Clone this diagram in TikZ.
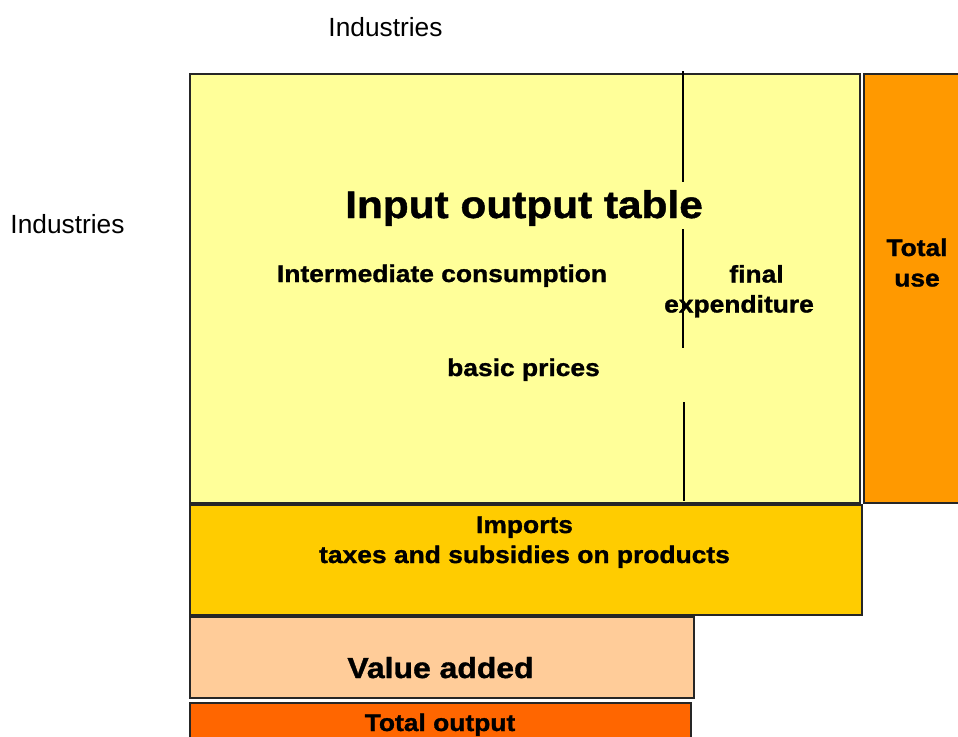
\documentclass[tikz,border=0pt]{standalone}
\usepackage{fontspec}
\setmainfont{Liberation Sans}[BoldFeatures={FakeStretch=1.1,FakeBold=1.2}]
\definecolor{ioyellow}{HTML}{FFFF99}
\definecolor{useorange}{HTML}{FF9900}
\definecolor{impgold}{HTML}{FFCC00}
\definecolor{vapeach}{HTML}{FFCC99}
\definecolor{outorange}{HTML}{FF6600}
\begin{document}
\begin{tikzpicture}[x=1pt,y=-1pt,
  blk/.style={draw=black!85,line width=1.6pt,rectangle,inner sep=0pt,anchor=north west},
  lbl/.style={anchor=base,inner sep=0pt,font=\fontsize{24}{28}\selectfont\bfseries},
  plain/.style={anchor=base,inner sep=0pt,font=\fontsize{26.3}{30}\selectfont},
  divider/.style={line width=1.5pt,black}]
\useasboundingbox (0,0) rectangle (958,736);
\clip (0,0) rectangle (958,736);
% boxes
\node[blk,fill=ioyellow,minimum width=670pt,minimum height=429pt] (io) at (189,73) {};
\node[blk,fill=useorange,minimum width=100pt,minimum height=429pt] (use) at (863,73) {};
\node[blk,fill=impgold,minimum width=672pt,minimum height=110pt] (imp) at (189,504) {};
\node[blk,fill=vapeach,minimum width=504pt,minimum height=81pt] (va) at (189,616) {};
\node[blk,fill=outorange,minimum width=501pt,minimum height=50pt] (out) at (189,702) {};
% divider line segments
\coordinate (d1) at (683,71);
\coordinate (d2) at (683,182);
\coordinate (d3) at (683,229);
\coordinate (d4) at (683,348);
\coordinate (d5) at (684,402);
\coordinate (d6) at (684,501);
\draw[divider] (d1) -- (d2);
\draw[divider] (d3) -- (d4);
\draw[divider] (d5) -- (d6);
% texts
\node[plain] (ind1) at (385.5,36) {Industries};
\node[plain] (ind2) at (67.5,233) {Industries};
\node[lbl,font=\fontsize{38.5}{44}\selectfont\bfseries] (title) at (524,218) {Input output table};
\node[lbl] (ic) at (442,282) {Intermediate consumption};
\node[lbl] (fin) at (756.5,282.5) {final};
\node[lbl] (exp) at (739,312.5) {expenditure};
\node[lbl] (bp) at (523.5,376) {basic prices};
\node[lbl] (tot) at (917,256) {Total};
\node[lbl] (us) at (917,286.5) {use};
\node[lbl] (imps) at (524.5,533) {Imports};
\node[lbl] (tax) at (524.5,563) {taxes and subsidies on products};
\node[lbl,font=\fontsize{29}{33}\selectfont\bfseries] (vat) at (440.5,678) {Value added};
\node[lbl] (to) at (440,731) {Total output};
\end{tikzpicture}
\end{document}
